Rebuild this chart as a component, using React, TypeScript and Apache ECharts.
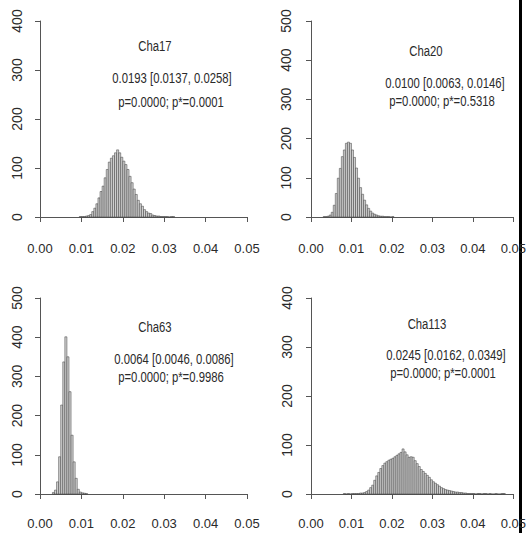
import React, { useEffect, useRef } from "react";
import * as echarts from "echarts";

// Histogram data: bin width 0.0005, counts per bin starting at the given value
const binWidth = 0.0005;

const cha17Start = 0.0095;
const cha17Counts = [1, 1, 1, 2, 3, 5, 11, 18, 27, 39, 52, 63, 80, 97, 112, 120, 125, 131, 137, 131, 122, 114, 107, 97, 83, 70, 57, 46, 34, 27, 22, 15, 11, 8, 7, 4, 3, 2, 2, 1, 1, 1, 1, 0, 1, 1];

const cha20Start = 0.003;
const cha20Counts = [1, 1, 2, 5, 12, 30, 60, 99, 124, 154, 171, 188, 191, 188, 171, 152, 125, 99, 75, 58, 43, 31, 22, 15, 10, 7, 5, 3, 2, 2, 1, 1, 1, 0, 1];

const cha63Start = 0.003;
const cha63Counts = [4, 10, 31, 95, 227, 337, 401, 350, 261, 150, 82, 40, 12, 5, 3, 2, 1];

const cha113Start = 0.008;
const cha113Counts = [1, 0, 1, 0, 1, 1, 1, 1, 2, 2, 3, 5, 8, 13, 18, 28, 37, 44, 52, 58, 63, 66, 69, 71, 73, 76, 79, 82, 85, 92, 86, 80, 75, 76, 75, 68, 62, 56, 50, 46, 42, 38, 34, 29, 25, 22, 19, 16, 13, 11, 9, 8, 7, 6, 5, 4, 4, 3, 3, 2, 2, 1, 1, 1, 1, 0, 1, 1, 0, 1, 1, 0, 1, 0, 0, 1, 0, 0, 1, 1];

const panelNames = ["Cha17", "Cha20", "Cha63", "Cha113"];
const panelEstimates = [
  "0.0193 [0.0137, 0.0258]",
  "0.0100 [0.0063, 0.0146]",
  "0.0064 [0.0046, 0.0086]",
  "0.0245 [0.0162, 0.0349]",
];
const panelPValues = [
  "p=0.0000; p*=0.0001",
  "p=0.0000; p*=0.5318",
  "p=0.0000; p*=0.9986",
  "p=0.0000; p*=0.0001",
];
const yMaxes = [400, 500, 500, 400];

const FONT = "'Liberation Sans', Arial, Helvetica, sans-serif";

function toBins(start: number, counts: number[]) {
  return counts.map((c, i) => [start + i * binWidth, start + (i + 1) * binWidth, c]);
}

export default function App() {
  const ref = useRef<HTMLDivElement>(null);
  useEffect(() => {
    document.body.style.margin = "0";
    const chart = echarts.init(ref.current!, undefined, { renderer: "svg" });

    const grids = [
      { left: 40, top: 21, width: 207, height: 196 },
      { left: 311, top: 21, width: 206, height: 196 },
      { left: 40, top: 298, width: 207, height: 196 },
      { left: 311, top: 298, width: 207, height: 196 },
    ];
    const xOffsets = [10, 10, 8, 8];
    const yOffsets = [7, 9, 7, 8];
    const datasets = [
      toBins(cha17Start, cha17Counts),
      toBins(cha20Start, cha20Counts),
      toBins(cha63Start, cha63Counts),
      toBins(cha113Start, cha113Counts),
    ];
    const textPos = [
      [[155, 46], [172, 78], [171, 102]],
      [[426, 51], [445, 83], [442, 101]],
      [[155, 327], [174, 359], [171, 377]],
      [[427, 324], [446, 355], [443, 373]],
    ];

    const axisColor = "#555";
    const textColor = "#2a2a2a";

    const graphics: any[] = [];
    for (let i = 0; i < 4; i++) {
      const lines = [panelNames[i], panelEstimates[i], panelPValues[i]];
      lines.forEach((t, j) => {
        graphics.push({
          type: "text",
          x: textPos[i][j][0],
          y: textPos[i][j][1],
          scaleX: 0.73,
          style: {
            text: t,
            fill: textColor,
            font: `15.5px ${FONT}`,
            textAlign: "center",
            textVerticalAlign: "middle",
          },
        });
      });
    }
    graphics.push({
      type: "rect",
      shape: { x: 519, y: 0, width: 3, height: 533 },
      style: { fill: "#000" },
    });

    chart.setOption({
      animation: false,
      backgroundColor: "#fff",
      grid: grids.map((g) => ({ ...g, containLabel: false })),
      xAxis: grids.map((_, i) => ({
        type: "value",
        gridIndex: i,
        min: 0,
        max: 0.05,
        interval: 0.01,
        offset: xOffsets[i],
        splitLine: { show: false },
        axisLine: { show: true, lineStyle: { color: axisColor, width: 1 } },
        axisTick: { show: true, length: 5, lineStyle: { color: axisColor } },
        axisLabel: {
          color: textColor,
          fontSize: 13,
          fontFamily: FONT,
          margin: 15,
          formatter: (v: number) => v.toFixed(2),
          showMinLabel: true,
          showMaxLabel: true,
        },
      })),
      yAxis: grids.map((_, i) => ({
        type: "value",
        gridIndex: i,
        min: 0,
        max: yMaxes[i],
        interval: 100,
        offset: yOffsets[i],
        splitLine: { show: false },
        axisLine: { show: true, lineStyle: { color: axisColor, width: 1 } },
        axisTick: { show: true, length: 5, lineStyle: { color: axisColor } },
        axisLabel: {
          color: textColor,
          fontSize: 14,
          fontFamily: FONT,
          rotate: 90,
          margin: 9,
        },
      })),
      series: datasets.map((data, i) => ({
        type: "custom",
        xAxisIndex: i,
        yAxisIndex: i,
        data,
        encode: { x: [0, 1], y: 2 },
        renderItem: (params: any, api: any) => {
          const x0 = api.value(0);
          const x1 = api.value(1);
          const y = api.value(2);
          const p0 = api.coord([x0, y]);
          const p1 = api.coord([x1, 0]);
          return {
            type: "rect",
            shape: { x: p0[0], y: p0[1], width: p1[0] - p0[0], height: p1[1] - p0[1] },
            style: { fill: "#cfcfcf", stroke: "#3a3a3a", lineWidth: 0.5 },
          };
        },
      })),
      graphic: graphics,
    });

    return () => chart.dispose();
  }, []);
  return <div ref={ref} style={{ width: 529, height: 533 }} />;
}
